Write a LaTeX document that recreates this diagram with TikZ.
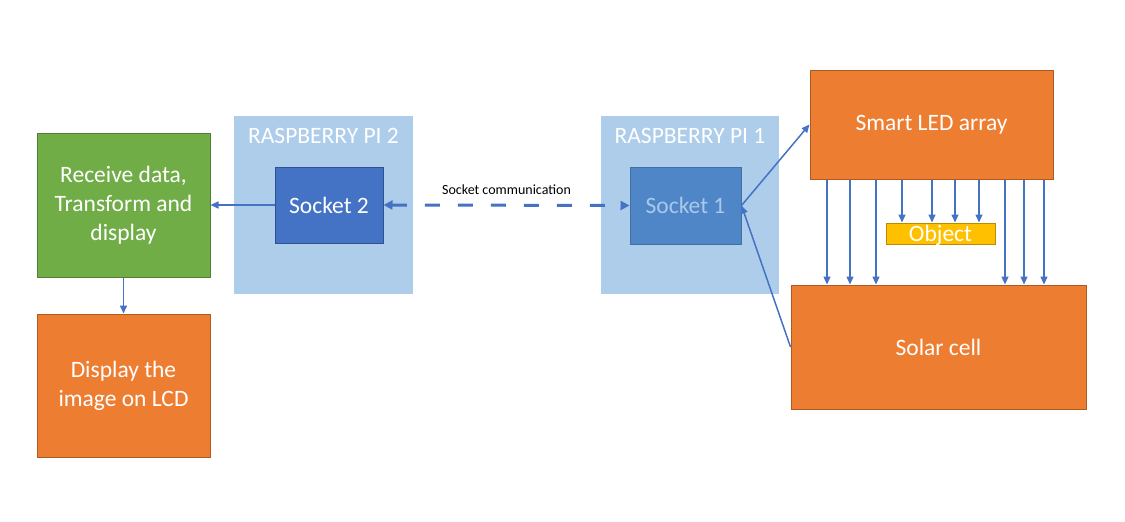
\documentclass[tikz,border=0pt]{standalone}
\usepackage{fontspec}
\setmainfont{Carlito}
\usetikzlibrary{arrows.meta}
\definecolor{org}{HTML}{ED7D31}
\definecolor{orgd}{HTML}{AE5A21}
\definecolor{grn}{HTML}{70AD47}
\definecolor{grnd}{HTML}{507E32}
\definecolor{pibg}{HTML}{ADCDEA}
\definecolor{sock}{HTML}{4472C4}
\definecolor{sockd}{HTML}{2F528F}
\definecolor{sockl}{HTML}{4F86C8}
\definecolor{sockld}{HTML}{41719C}
\definecolor{sockt}{HTML}{A9C9EA}
\definecolor{objc}{HTML}{FFC000}
\definecolor{objd}{HTML}{BC8C00}
\definecolor{arrc}{HTML}{4472C4}
\tikzset{
  big/.style={font=\fontsize{23.5}{29}\selectfont, text=white, align=center},
  box/.style={big, draw, line width=1pt, inner sep=0pt},
  orgbox/.style={box, fill=org, draw=orgd},
  grnbox/.style={box, fill=grn, draw=grnd},
  pibox/.style={fill=pibg, inner sep=0pt},
  arr/.style={draw=arrc, line width=1.5pt, -{Triangle[length=8pt,width=7pt]}},
}
\begin{document}
\begin{tikzpicture}[x=1pt,y=-1pt]
\useasboundingbox (0,0) rectangle (1125,522);
% left column
\node[grnbox, minimum width=173pt, minimum height=144pt] (recv) at (123.5,205) {Receive data,\\Transform and\\display};
\node[orgbox, minimum width=173pt, minimum height=143pt] (disp) at (123.5,385.5) {Display the\\image on LCD};
% Raspberry Pi 2
\node[pibox, minimum width=179pt, minimum height=178pt] (pi2) at (323.5,205) {};
\node[big] (pi2t) at (323.5,136) {RASPBERRY PI 2};
\node[box, fill=sock, draw=sockd, minimum width=108pt, minimum height=76pt] (s2) at (329,205) {Socket 2};
% Raspberry Pi 1
\node[pibox, minimum width=178pt, minimum height=178pt] (pi1) at (690,205) {};
\node[big] (pi1t) at (690,136) {RASPBERRY PI 1};
\node[box, fill=sockl, draw=sockld, text=sockt, minimum width=111pt, minimum height=77pt] (s1) at (685.5,205.5) {Socket 1};
% right
\node[orgbox, minimum width=243pt, minimum height=109pt] (led) at (931.5,124.5) {Smart LED array};
\node[orgbox, minimum width=295pt, minimum height=124pt] (solar) at (938.5,347) {Solar cell};
\node[draw=objd, fill=objc, line width=1pt, minimum width=109pt, minimum height=21pt, inner sep=0pt] (obj) at (940.5,233.5) {};
\node[big, anchor=base, inner sep=0pt] (objt) at (940.5,241.5) {Object};
% connectors
\draw[arr] (s2.west) -- (recv.east);
\draw[arr] (recv.south) -- (disp.north);
\draw[draw=arrc, line width=3pt, dash pattern=on 15pt off 18pt, {Triangle[length=9pt,width=9pt]}-{Triangle[length=9pt,width=9pt]}] (s2.east) -- (s1.west)
  node[midway, above=6pt, font=\fontsize{14}{16}\selectfont, text=black] (lbl) {Socket communication};
\draw[arr] (s1.east) -- (led.west);
\draw[arr] (solar.west) -- (s1.east);
\foreach \x in {827,850,876,1005,1024,1044}
  \draw[arr] (\x,0 |- led.south) -- (\x,0 |- solar.north);
\foreach \x in {902,932,955,979}
  \draw[arr] (\x,0 |- led.south) -- (\x,0 |- obj.north);
\end{tikzpicture}
\end{document}
